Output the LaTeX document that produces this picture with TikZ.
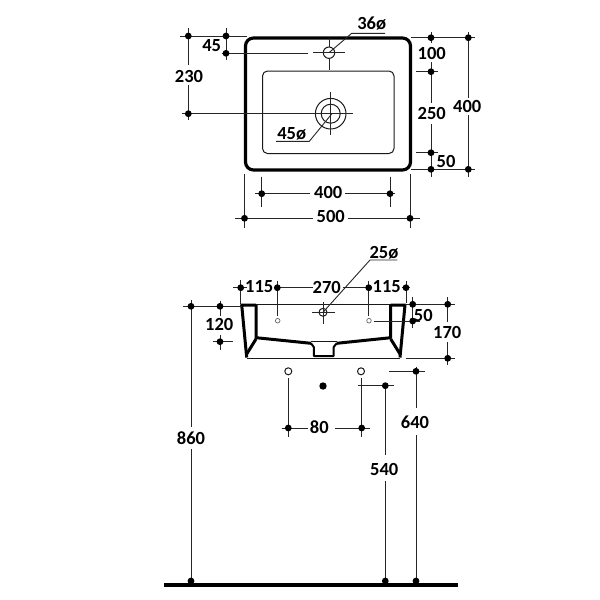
\documentclass[tikz,border=0pt]{standalone}
\usepackage{fontspec}
\setmainfont{Carlito}
\tikzset{
  dimline/.style={line width=.9pt,black!85},
  wall/.style={line width=3pt,line join=round},
  thinwall/.style={line width=1pt,black!90},
  lab/.style={font=\fontsize{18.5}{18.5}\selectfont\bfseries,inner sep=0pt}
}
\newcommand{\dimdot}[1]{\fill (#1) circle (3.4pt);}
\begin{document}
\begin{tikzpicture}[x=1pt,y=-1pt]
\useasboundingbox (0,0) rectangle (600,600);

% top view
\draw[line width=3.2pt,rounded corners=8pt] (245.5,38) rectangle (410.5,170);
\draw[thinwall,rounded corners=5pt] (262.5,71) rectangle (394,153.5);
\coordinate (tap) at (329,52.7);
\coordinate (drain) at (330.7,113.7);
\draw[thinwall] (tap) circle (5.7pt);
\draw[dimline] (313.3,52.7) -- (345,52.7);
\draw[dimline] (329,38) -- (329,47) (329,58.4) -- (329,70);
\draw[thinwall] (drain) circle (15.3pt) (drain) circle (9.5pt);
\draw[dimline] (181.7,113.7) -- (352.7,113.7);
\draw[dimline] (330.7,91.7) -- (330.7,135);

% left dims
\coordinate (a1) at (188.3,36);
\coordinate (a2) at (188.3,113.7);
\coordinate (b1) at (226,36);
\coordinate (b2) at (226,53.3);
\draw[dimline] (180,36) -- (246.7,36);
\draw[dimline] (221.7,53.3) -- (308,53.3);
\draw[dimline] (226,28.3) -- (226,60);
\draw[dimline] (188.3,28.3) -- (188.3,65) (188.3,85) -- (188.3,120);
\node[lab] (t45) at (211.7,45.7) {45};
\node[lab] (t230) at (189,76.7) {230};
\foreach \p in {a1,a2,b1,b2} {\dimdot{\p}}

% leaders
\node[lab] (t36d) at (371.7,24) {36ø};
\coordinate (u36) at (351.7,33.3);
\draw[dimline] (385,33.3) -- (u36) -- (tap);
\node[lab] (t45d) at (291.7,134) {45ø};
\coordinate (u45) at (309.3,141.3);
\draw[dimline] (276,141.3) -- (u45) -- (331.7,114);

% right dims
\draw[dimline] (410.7,37.7) -- (475,37.7);
\draw[dimline] (410.7,169.3) -- (475,169.3);
\draw[dimline] (416,71.7) -- (438,71.7);
\draw[dimline] (416,152.7) -- (438,152.7);
\draw[dimline] (431,32) -- (431,43) (431,62) -- (431,103) (431,124) -- (431,177);
\draw[dimline] (468.3,32) -- (468.3,98) (468.3,115) -- (468.3,177);
\node[lab] (t100) at (431.7,53.3) {100};
\node[lab] (t250) at (431.7,113.3) {250};
\node[lab] (t50a) at (446,161) {50};
\node[lab] (t400a) at (467.3,106.7) {400};

% bottom dims
\draw[dimline] (244.5,174) -- (244.5,228) (410,174) -- (410,228);
\draw[dimline] (261.7,176.7) -- (261.7,206.7) (390,176.7) -- (390,206.7);
\draw[dimline] (255,193.7) -- (310,193.7) (345,193.7) -- (395,193.7);
\draw[dimline] (235,218.3) -- (313,218.3) (348,218.3) -- (420,218.3);
\node[lab] (t400b) at (328.3,192.7) {400};
\node[lab] (t500) at (330.7,216.7) {500};

% front view
\draw[thinwall] (241.7,304.6) -- (405,304.6);
\draw[wall] (256,305) -- (241.7,305) -- (246.7,357.5);
\draw[wall] (390.7,305) -- (405,305) -- (400,357.5);
\draw[wall] (256,305) -- (256,337.7) -- (311,343.3);
\draw[wall] (390.7,305) -- (390.7,337.7) -- (336.7,343.3);
\draw[wall] (256,339) -- (246.7,354);
\draw[wall] (390.7,339) -- (400,354);
\draw[thinwall] (246.7,358.3) -- (400,358.3);
\draw[thinwall] (311,341) -- (336.7,341);
\draw[line width=2pt,line join=round] (311,343.3) -- (313.8,347) -- (313.8,356) -- (333.7,356) -- (333.7,347) -- (336.7,343.3);
\coordinate (hole) at (323,312.3);
\draw[thinwall] (hole) circle (4pt);
\draw[dimline] (312.3,312.3) -- (335,312.3) (323,301.7) -- (323,324);
\draw[black!60,line width=.7pt] (277.7,320.7) circle (2.3pt) (369,320.7) circle (2.3pt);

% front dims
\draw[dimline] (233.3,287.7) -- (247,287.7) (277,287.7) -- (312.7,287.7) (343,287.7) -- (369,287.7) (401.7,287.7) -- (410,287.7);
\draw[dimline] (240.7,280) -- (240.7,304.3) (277.3,280.7) -- (277.3,316) (368.7,280.7) -- (368.7,316) (406,280.7) -- (406,303);
\node[lab] (t115a) at (259.3,287) {115};
\node[lab] (t270) at (326.7,287) {270};
\node[lab] (t115b) at (386.7,287) {115};
\node[lab] (t25d) at (384,252.7) {25ø};
\coordinate (u25) at (370,260);
\draw[dimline] (397.3,260) -- (u25) -- (hole);

\draw[dimline] (405,304.3) -- (455,304.3) (374,321) -- (420,321) (406,358.3) -- (455,358.3);
\draw[dimline] (412.7,296.7) -- (412.7,328.3);
\draw[dimline] (447.7,297) -- (447.7,322) (447.7,342) -- (447.7,365);
\node[lab] (t50b) at (423.3,315.3) {50};
\node[lab] (t170) at (447.3,332) {170};

\draw[dimline] (182.7,306.3) -- (241.7,306.3) (212.7,341.7) -- (232.7,341.7);
\draw[dimline] (220,301) -- (220,316) (220,335) -- (220,350);
\draw[dimline] (191,300) -- (191,427) (191,449) -- (191,581);
\node[lab] (t120) at (219.3,324.3) {120};
\node[lab] (t860) at (191,437.7) {860};

% holes below
\draw[thinwall] (288.3,371.3) circle (3.5pt) (361,371.3) circle (3.5pt);
\fill (323,386) circle (3.7pt);
\draw[dimline] (288.3,378.3) -- (288.3,436.7) (361.7,378.3) -- (361.7,436.7);
\draw[dimline] (281.7,428) -- (308.3,428) (335,428) -- (370,428);
\node[lab] (t80) at (319.3,426.7) {80};

\draw[dimline] (389,371.3) -- (425,371.3) (358,385.7) -- (394,385.7);
\draw[dimline] (416,366.7) -- (416,408) (416,435) -- (416,581);
\draw[dimline] (385.3,385.7) -- (385.3,455) (385.3,481) -- (385.3,581);
\node[lab] (t640) at (415,422) {640};
\node[lab] (t540) at (384.3,469) {540};

% floor
\fill (164,582.7) rectangle (458.3,586.7);

% remaining dots
\foreach \u/\v in {431/37.7,431/71.7,431/152.7,431/169.3,468.3/37.7,468.3/169.3,
  261.7/193.7,390/193.7,244.5/218.3,410/218.3,
  240.7/287.7,277.3/287.7,368.7/287.7,406/287.7,
  412.7/304.3,412.7/321,447.7/304.3,447.7/358.3,
  191/306.3,220/306.3,220/341.7,288.3/428,361.7/428,
  191/581,385.3/581,416/581,385.3/385.7,416/371.3}
  {\dimdot{\u,\v}}
\end{tikzpicture}
\end{document}
